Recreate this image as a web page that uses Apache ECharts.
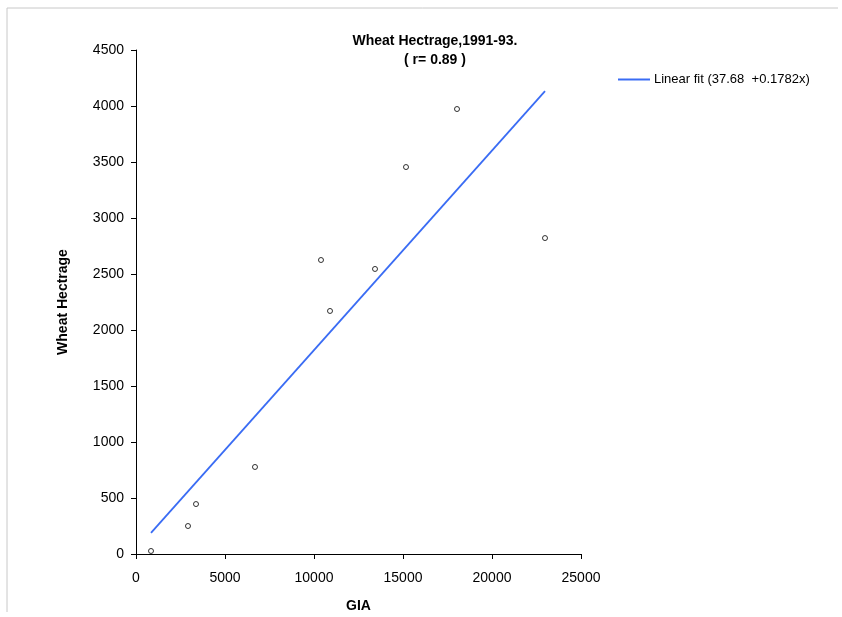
<!DOCTYPE html>
<html>
<head>
<meta charset="utf-8">
<script src="https://cdn.jsdelivr.net/npm/echarts@6/dist/echarts.min.js"></script>
<style>html,body{margin:0;padding:0;background:#fff}#c{width:842px;height:617px}</style>
</head>
<body>
<div id="c"></div>
<script>
var giaValues = [843, 2921, 3371, 6685, 10393, 10899, 13427, 15169, 18034, 22978];
var wheatValues = [27, 250, 446, 777, 2625, 2170, 2545, 3455, 3973, 2821];
var fitIntercept = 37.68;
var fitSlope = 0.1782;
var fitX = [843, 22978];
var xTicks = [0, 5000, 10000, 15000, 20000, 25000];
var yTicks = [0, 500, 1000, 1500, 2000, 2500, 3000, 3500, 4000, 4500];

var scatterData = giaValues.map(function (x, i) { return [x, wheatValues[i]]; });
var fitData = fitX.map(function (x) { return [x, fitIntercept + fitSlope * x]; });

var chart = echarts.init(document.getElementById('c'), null, {renderer: 'canvas'});
var font = 'Liberation Sans, Arial, sans-serif';
chart.setOption({
  animation: false,
  backgroundColor: '#fff',
  textStyle: {fontFamily: font},
  title: {
    text: 'Wheat Hectrage,1991-93.\n( r= 0.89 )',
    left: 430, top: 27, textAlign: 'center',
    textStyle: {fontSize: 14, fontWeight: 'bold', color: '#000', lineHeight: 19, fontFamily: font}
  },
  legend: {
    left: 618, top: 73, padding: 0,
    itemWidth: 32, itemHeight: 14, itemGap: 6,
    data: [{name: 'Linear fit (37.68  +0.1782x)', icon: 'path://M0,6L32,6L32,8L0,8Z'}],
    textStyle: {fontSize: 13, color: '#000', fontFamily: font, padding: [0, 0, 0, -1]}
  },
  graphic: [
    {type: 'line', shape: {x1: 7, y1: 8, x2: 838, y2: 8}, style: {stroke: '#c8c8c8', lineWidth: 1}},
    {type: 'line', shape: {x1: 7, y1: 8, x2: 7, y2: 612}, style: {stroke: '#c8c8c8', lineWidth: 1}}
  ],
  grid: {left: 136, right: 261, top: 50, bottom: 63, containLabel: false, outerBoundsMode: 'none'},
  xAxis: {
    type: 'value', min: 0, max: 25000, interval: 5000,
    name: 'GIA', nameLocation: 'middle', nameGap: 45,
    nameTextStyle: {fontSize: 14, fontWeight: 'bold', color: '#000', fontFamily: font},
    axisLine: {show: true, onZero: false, lineStyle: {color: '#000', width: 1}},
    axisTick: {show: true, inside: false, length: 5, lineStyle: {color: '#000'}},
    axisLabel: {fontSize: 14, color: '#000', margin: 17, fontFamily: font,
      formatter: function (v) { return String(v); }},
    splitLine: {show: false}
  },
  yAxis: {
    type: 'value', min: 0, max: 4500, interval: 500,
    name: 'Wheat Hectrage', nameLocation: 'middle', nameGap: 66,
    nameTextStyle: {fontSize: 14, fontWeight: 'bold', color: '#000', fontFamily: font},
    axisLine: {show: true, onZero: false, lineStyle: {color: '#000', width: 1}},
    axisTick: {show: true, inside: false, length: 5, lineStyle: {color: '#000'}},
    axisLabel: {fontSize: 14, color: '#000', margin: 12, fontFamily: font,
      formatter: function (v) { return String(v); }},
    splitLine: {show: false}
  },
  series: [
    {
      type: 'scatter', name: 'data', data: scatterData,
      symbol: 'circle', symbolSize: 5,
      itemStyle: {color: '#fff', borderColor: '#000', borderWidth: 1}
    },
    {
      type: 'line', name: 'Linear fit (37.68  +0.1782x)', data: fitData,
      showSymbol: false, symbol: 'none',
      lineStyle: {color: '#3a6cf4', width: 1.8},
      itemStyle: {color: '#3a6cf4'}
    }
  ]
});
</script>
</body>
</html>
